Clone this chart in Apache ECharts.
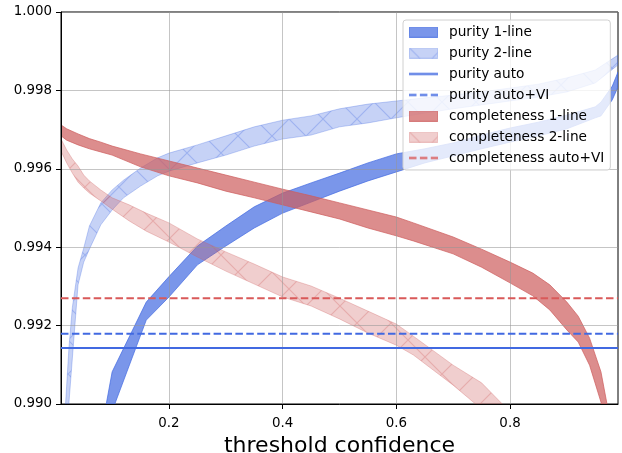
<!DOCTYPE html>
<html>
<head>
<meta charset="utf-8">
<script src="https://cdn.jsdelivr.net/npm/echarts@6/dist/echarts.min.js"></script>
<style>
  html, body { margin: 0; padding: 0; background: #ffffff; }
  #chart { width: 622px; height: 453px; }
</style>
</head>
<body>
<div id="chart"></div>
<script>
// ---- axis ticks ----
const xTickValues = [0.2, 0.4, 0.6, 0.8];
const xRange = [0.01, 0.99];
const yRange = [0.990, 1.000];
const yStep = 0.002;

// ---- purity, 1-line ----
const p1X     = [0.09, 0.10, 0.16, 0.20, 0.25, 0.30, 0.35, 0.40, 0.45, 0.50, 0.55, 0.60, 0.65, 0.70, 0.75, 0.80, 0.85, 0.90, 0.95, 0.96, 0.98, 0.99];
const p1Upper = [0.99003, 0.99082, 0.99260, 0.99325, 0.99403, 0.99454, 0.99503, 0.99538, 0.99564, 0.99589, 0.99615, 0.99638, 0.99651, 0.99666, 0.99686, 0.99704, 0.99719, 0.99737, 0.99758, 0.99770, 0.99811, 0.99847];
const p1Lower = [0.98850, 0.98982, 0.99214, 0.99273, 0.99355, 0.99403, 0.99449, 0.99487, 0.99515, 0.99543, 0.99569, 0.99592, 0.99615, 0.99633, 0.99651, 0.99668, 0.99684, 0.99702, 0.99730, 0.99735, 0.99776, 0.99809];

// ---- purity, 2-line ----
const p2X     = [0.018, 0.024, 0.03, 0.04, 0.05, 0.06, 0.08, 0.10, 0.12, 0.15, 0.18, 0.20, 0.25, 0.30, 0.35, 0.40, 0.45, 0.50, 0.55, 0.60, 0.65, 0.70, 0.75, 0.80, 0.85, 0.90, 0.95, 0.99];
const p2Upper = [0.99000, 0.99145, 0.99247, 0.99347, 0.99398, 0.99454, 0.99513, 0.99546, 0.99571, 0.99602, 0.99628, 0.99640, 0.99661, 0.99684, 0.99707, 0.99724, 0.99735, 0.99753, 0.99765, 0.99773, 0.99781, 0.99788, 0.99796, 0.99806, 0.99816, 0.99832, 0.99852, 0.99890];
const p2Lower = [0.98850, 0.99003, 0.99117, 0.99304, 0.99362, 0.99395, 0.99457, 0.99495, 0.99526, 0.99556, 0.99582, 0.99594, 0.99615, 0.99635, 0.99658, 0.99676, 0.99686, 0.99707, 0.99717, 0.99730, 0.99742, 0.99753, 0.99763, 0.99773, 0.99783, 0.99796, 0.99819, 0.99865];

// ---- completeness, 1-line ----
const c1X     = [0.01, 0.02, 0.04, 0.06, 0.08, 0.10, 0.15, 0.20, 0.25, 0.30, 0.35, 0.40, 0.45, 0.50, 0.55, 0.60, 0.63, 0.70, 0.75, 0.80, 0.84, 0.87, 0.90, 0.92, 0.94, 0.96, 0.97, 0.98];
const c1Upper = [0.99712, 0.99702, 0.99689, 0.99677, 0.99668, 0.99658, 0.99638, 0.99620, 0.99602, 0.99584, 0.99566, 0.99548, 0.99531, 0.99513, 0.99495, 0.99477, 0.99462, 0.99426, 0.99395, 0.99362, 0.99334, 0.99304, 0.99260, 0.99224, 0.99168, 0.99082, 0.99005, 0.98908];
const c1Lower = [0.99684, 0.99673, 0.99661, 0.99651, 0.99643, 0.99635, 0.99605, 0.99582, 0.99564, 0.99543, 0.99526, 0.99508, 0.99490, 0.99472, 0.99449, 0.99429, 0.99416, 0.99383, 0.99349, 0.99309, 0.99276, 0.99240, 0.99189, 0.99158, 0.99099, 0.99005, 0.98934, 0.98832];

// ---- completeness, 2-line ----
const c2X     = [0.01, 0.02, 0.03, 0.04, 0.05, 0.06, 0.08, 0.10, 0.13, 0.16, 0.20, 0.25, 0.30, 0.35, 0.40, 0.45, 0.50, 0.55, 0.60, 0.63, 0.70, 0.75, 0.80];
const c2Upper = [0.99676, 0.99648, 0.99625, 0.99607, 0.99584, 0.99569, 0.99546, 0.99526, 0.99508, 0.99487, 0.99462, 0.99421, 0.99388, 0.99357, 0.99324, 0.99301, 0.99270, 0.99237, 0.99204, 0.99173, 0.99099, 0.99054, 0.98980];
const c2Lower = [0.99645, 0.99615, 0.99589, 0.99566, 0.99551, 0.99538, 0.99518, 0.99497, 0.99467, 0.99441, 0.99413, 0.99375, 0.99339, 0.99306, 0.99273, 0.99250, 0.99217, 0.99181, 0.99150, 0.99125, 0.99048, 0.98987, 0.98908];

// ---- reference levels ----
const purityAuto = 0.99143;
const purityAutoVI = 0.99179;
const completenessAutoVI = 0.99270;

// ---- styling ----
const BLUE = '65,105,225';
const RED = '205,92,92';
const FONT = '"DejaVu Sans", Verdana, sans-serif';
const GRID_COLOR = 'rgba(150,150,150,0.55)';

// repeating "x" hatch tile on a translucent face
function hatchTile(rgb, alpha) {
  const s = 34;
  const c = document.createElement('canvas');
  c.width = s; c.height = s;
  const g = c.getContext('2d');
  g.fillStyle = `rgba(${rgb},${alpha})`;
  g.fillRect(0, 0, s, s);
  g.strokeStyle = `rgba(${rgb},${alpha})`;
  g.lineWidth = 1.2;
  g.beginPath();
  for (const o of [-s, 0, s]) {
    g.moveTo(o, 0); g.lineTo(o + s, s);
    g.moveTo(o, s); g.lineTo(o + s, 0);
  }
  g.stroke();
  return c;
}

// legend swatches: 29px drawn, padded to 35px so the label sits further right
const ICON_W = 35, ICON_H = 11, SW = 29;
function patchIcon(rgb, alpha, hatched) {
  const c = document.createElement('canvas');
  c.width = ICON_W; c.height = ICON_H;
  const g = c.getContext('2d');
  g.fillStyle = hatched ? g.createPattern(hatchTile(rgb, alpha), 'repeat') : `rgba(${rgb},${alpha})`;
  g.fillRect(0.5, 0.5, SW - 1, ICON_H - 1);
  g.strokeStyle = `rgba(${rgb},${alpha})`;
  g.lineWidth = 1;
  g.strokeRect(0.5, 0.5, SW - 1, ICON_H - 1);
  return 'image://' + c.toDataURL();
}
function lineIcon(color, dashed) {
  const c = document.createElement('canvas');
  c.width = ICON_W; c.height = ICON_H;
  const g = c.getContext('2d');
  g.strokeStyle = color;
  g.lineWidth = 2;
  if (dashed) g.setLineDash([7.5, 3.4]);
  g.beginPath();
  g.moveTo(0, ICON_H / 2); g.lineTo(SW, ICON_H / 2);
  g.stroke();
  return 'image://' + c.toDataURL();
}

// filled band between a lower and an upper curve, drawn as one polygon
function band(name, xs, lo, hi, rgb, alpha, hatched) {
  const edge = `rgba(${rgb},${alpha})`;
  const fill = hatched ? { image: hatchTile(rgb, alpha), repeat: 'repeat' } : edge;
  return {
    name: name, type: 'custom', clip: true,
    data: xs.map((x, i) => [x, lo[i], hi[i]]),
    encode: { x: 0, y: [1, 2] },
    itemStyle: { color: edge },
    renderItem: function (params, api) {
      if (params.dataIndex !== 0) return null;
      const pts = [];
      for (let i = 0; i < xs.length; i++) pts.push(api.coord([xs[i], hi[i]]));
      for (let i = xs.length - 1; i >= 0; i--) pts.push(api.coord([xs[i], lo[i]]));
      const cs = params.coordSys;
      return {
        type: 'group',
        clipPath: { type: 'rect', shape: { x: cs.x, y: cs.y, width: cs.width, height: cs.height } },
        children: [{
          type: 'polygon',
          shape: { points: pts },
          style: { fill: fill, stroke: edge, lineWidth: 1 }
        }]
      };
    }
  };
}

function level(name, value, color, dashed) {
  return {
    name: name, type: 'line',
    data: [[xRange[0], value], [xRange[1], value]],
    symbol: 'none',
    itemStyle: { color: color },
    lineStyle: { color: color, width: 2, type: dashed ? [7.5, 3.4] : 'solid' }
  };
}

const blueLine = 'rgb(' + BLUE + ')';
const redLine = '#d95959';

const series = [
  band('purity 1-line', p1X, p1Lower, p1Upper, BLUE, 0.7, false),
  band('purity 2-line', p2X, p2Lower, p2Upper, BLUE, 0.3, true),
  level('purity auto', purityAuto, blueLine, false),
  level('purity auto+VI', purityAutoVI, blueLine, true),
  band('completeness 1-line', c1X, c1Lower, c1Upper, RED, 0.7, false),
  band('completeness 2-line', c2X, c2Lower, c2Upper, RED, 0.3, true),
  level('completeness auto+VI', completenessAutoVI, redLine, true)
];

const legendItems = [
  { name: 'purity 1-line', icon: patchIcon(BLUE, 0.7, false) },
  { name: 'purity 2-line', icon: patchIcon(BLUE, 0.3, true) },
  { name: 'purity auto', icon: lineIcon(blueLine, false) },
  { name: 'purity auto+VI', icon: lineIcon(blueLine, true) },
  { name: 'completeness 1-line', icon: patchIcon(RED, 0.7, false) },
  { name: 'completeness 2-line', icon: patchIcon(RED, 0.3, true) },
  { name: 'completeness auto+VI', icon: lineIcon(redLine, true) }
];

const chart = echarts.init(document.getElementById('chart'), null, { renderer: 'canvas' });
chart.setOption({
  animation: false,
  backgroundColor: '#ffffff',
  grid: {
    left: 61, top: 12, right: 4, bottom: 49,
    outerBoundsMode: 'none',
    show: true, borderColor: '#000', borderWidth: 1, backgroundColor: 'transparent'
  },
  legend: {
    orient: 'vertical',
    left: 403, top: 20,
    padding: [5, 6, 5, 6],
    itemWidth: ICON_W, itemHeight: ICON_H, itemGap: 7,
    backgroundColor: 'rgba(255,255,255,0.8)',
    borderColor: '#d0d0d0', borderWidth: 1, borderRadius: 3,
    selectedMode: false,
    textStyle: { fontFamily: FONT, fontSize: 13.7, color: '#000', lineHeight: 14 },
    data: legendItems,
    z: 10
  },
  xAxis: {
    type: 'value', min: xRange[0], max: xRange[1], z: 3,
    name: 'threshold confidence', nameLocation: 'middle', nameGap: 23,
    nameTextStyle: { fontFamily: FONT, fontSize: 22, color: '#000' },
    axisLine: { show: true, lineStyle: { color: '#000', width: 1 } },
    axisTick: { show: true, length: 5, lineStyle: { color: '#000', width: 1 }, customValues: xTickValues },
    axisLabel: {
      customValues: xTickValues, margin: 13,
      fontFamily: FONT, fontSize: 13.4, color: '#000',
      formatter: v => v.toFixed(1)
    },
    splitLine: { show: true, lineStyle: { color: GRID_COLOR, width: 1 } }
  },
  yAxis: {
    type: 'value', min: yRange[0], max: yRange[1], interval: yStep, z: 3,
    axisLine: { show: true, lineStyle: { color: '#000', width: 1 } },
    axisTick: { show: true, length: 5, lineStyle: { color: '#000', width: 1 } },
    axisLabel: {
      margin: 9, fontFamily: FONT, fontSize: 13.4, color: '#000',
      formatter: v => v.toFixed(3)
    },
    splitLine: { show: true, lineStyle: { color: GRID_COLOR, width: 1 } }
  },
  series: series
});
</script>
</body>
</html>
